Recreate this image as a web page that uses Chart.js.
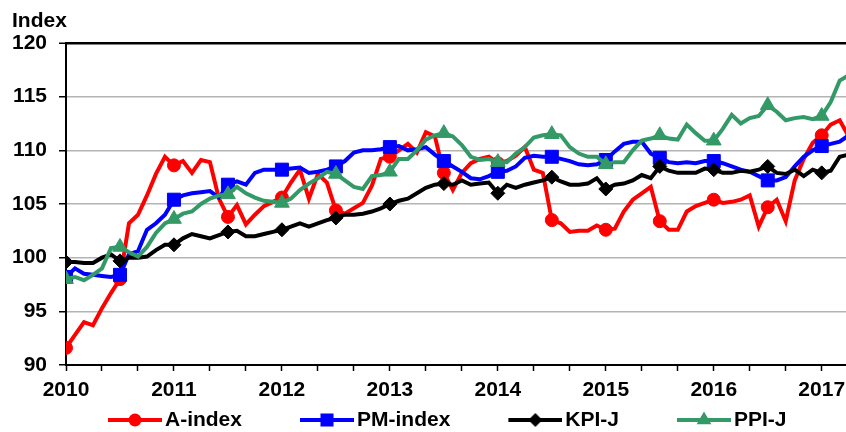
<!DOCTYPE html>
<html>
<head>
<meta charset="utf-8">
<title>Index</title>
<script src="https://cdn.jsdelivr.net/npm/chart.js@4.4.0/dist/chart.umd.min.js"></script>
<style>
    body { margin: 0; background: #fff; }
    canvas { display: block; }
</style>
</head>
<body>
<canvas id="indexChart" width="846" height="432"></canvas>
<script>
// Monthly values from Jan 2010, one point per month
const years = ['2010', '2011', '2012', '2013', '2014', '2015', '2016', '2017'];
const seriesNames = ['A-index', 'PM-index', 'KPI-J', 'PPI-J'];
const axisTitle = 'Index';

const aIndex = [
    91.6, 92.8, 94.0, 93.7, 95.3, 96.7, 98.0, 103.2, 104.0, 105.8,
    107.8, 109.4, 108.6, 109.0, 107.9, 109.1, 108.9, 105.5, 103.8, 104.9,
    103.1, 104.0, 104.8, 105.2, 105.6, 107.0, 108.2, 105.5, 107.8, 107.0,
    104.4, 104.1, 104.6, 105.1, 106.7, 109.2, 109.4, 110.0, 110.6, 109.8,
    111.7, 111.3, 107.9, 106.3, 107.9, 108.8, 109.2, 109.4, 108.8, 109.0,
    109.5, 110.3, 108.2, 107.9, 103.5, 103.2, 102.4, 102.5, 102.5, 103.0,
    102.6, 102.7, 104.3, 105.4, 106.0, 106.6, 103.4, 102.6, 102.6, 104.3,
    104.8, 105.1, 105.4, 105.1, 105.2, 105.4, 105.8, 102.9, 104.7, 105.4,
    103.4, 107.2, 109.2, 110.7, 111.4, 112.4, 112.8, 111.3
];
const pmIndex = [
    98.2, 99.0, 98.5, 98.4, 98.3, 98.2, 98.4, 100.3, 100.6, 102.6,
    103.2, 104.0, 105.4, 105.8, 106.0, 106.1, 106.2, 105.6, 106.8, 107.1,
    106.8, 107.9, 108.2, 108.2, 108.2, 108.3, 108.4, 107.9, 108.0, 108.2,
    108.5, 109.0, 109.8, 110.0, 110.0, 110.1, 110.3, 110.4, 110.0, 110.1,
    110.3, 109.6, 109.0, 108.5, 108.0, 107.4, 107.3, 107.6, 108.0, 108.1,
    108.5, 109.3, 109.5, 109.4, 109.4, 109.2, 109.0, 108.7, 108.6, 108.7,
    109.1, 109.9, 110.6, 110.8, 110.8, 109.7, 109.3, 108.9, 108.8, 108.9,
    108.8, 109.0, 109.0, 108.8, 108.5, 108.2, 108.0, 107.6, 107.2, 107.2,
    107.5, 108.5, 109.4, 110.0, 110.4, 110.6, 110.8, 111.4
];
const kpiJ = [
    99.6, 99.6, 99.5, 99.5, 100.0, 100.3, 99.7, 100.0, 100.0, 100.1,
    100.7, 101.2, 101.2, 101.8, 102.2, 102.0, 101.8, 102.1, 102.4, 102.5,
    102.0, 102.0, 102.2, 102.4, 102.6, 102.9, 103.2, 102.9, 103.2, 103.5,
    103.7, 104.0, 104.0, 104.1, 104.3, 104.6, 105.0, 105.3, 105.5, 106.0,
    106.5, 106.8, 106.9, 106.8, 107.2, 106.8, 106.9, 107.0, 106.0, 106.8,
    106.5, 106.8, 107.0, 107.2, 107.5, 107.1, 106.8, 106.8, 106.9, 107.4,
    106.4, 106.8, 106.9, 107.2, 107.7, 107.4, 108.5, 108.1, 107.9, 107.9,
    107.9, 108.3, 108.2, 107.9, 107.9, 108.1, 108.0, 108.2, 108.5, 107.9,
    107.8, 108.2, 107.6, 108.2, 107.9, 108.1, 109.4, 109.6
];
const ppiJ = [
    98.0, 98.2, 97.9, 98.4, 99.0, 100.9, 101.0, 100.5, 100.1, 101.0,
    102.3, 103.2, 103.6, 104.1, 104.3, 105.0, 105.5, 105.8, 105.9, 106.6,
    106.0, 105.6, 105.3, 105.2, 105.1, 105.5, 106.3, 106.9, 107.4, 108.0,
    107.8, 107.2, 106.6, 106.4, 107.6, 107.7, 108.0, 109.2, 109.2, 110.0,
    111.0, 111.4, 111.6, 111.3, 110.5, 109.4, 109.1, 109.2, 108.9, 108.9,
    109.7, 110.3, 111.2, 111.4, 111.5, 111.4, 110.3, 109.7, 109.4, 109.4,
    108.7, 108.9, 108.9, 110.0, 110.9, 111.1, 111.4, 111.1, 111.0, 112.4,
    111.6, 110.9, 110.9, 112.0, 113.3, 112.5, 113.0, 113.2, 114.2, 113.6,
    112.8, 113.0, 113.1, 112.9, 113.2, 114.5, 116.5, 117.0
];

const FONT = { family: '"Liberation Sans", Arial, sans-serif', size: 21, weight: 'bold' };

// Draw one marker shape, sized the way Chart.js sizes its point styles
function drawMarker(g, style, x, y, r) {
    g.beginPath();
    if (style === 'circle') {
        g.arc(x, y, r, 0, Math.PI * 2);
    } else if (style === 'rect') {
        const s = r * Math.SQRT1_2;
        g.rect(x - s, y - s, 2 * s, 2 * s);
    } else if (style === 'rectRot') {
        g.moveTo(x - r, y);
        g.lineTo(x, y - r);
        g.lineTo(x + r, y);
        g.lineTo(x, y + r);
        g.closePath();
    } else {
        const a = Math.PI * 2 / 3;
        g.moveTo(x, y - r);
        g.lineTo(x + Math.sin(a) * r, y - Math.cos(a) * r);
        g.lineTo(x + Math.sin(2 * a) * r, y - Math.cos(2 * a) * r);
        g.closePath();
    }
    g.fill();
}

// Legend sample: short line with the marker in the middle
// (left part of the image stays transparent so the sample sits next to its text)
function makeLegendImage(color, style, r) {
    const c = document.createElement('canvas');
    c.width = 110;
    c.height = 20;
    const g = c.getContext('2d');
    g.strokeStyle = color;
    g.fillStyle = color;
    g.lineWidth = 4;
    g.beginPath();
    g.moveTo(56, 10);
    g.lineTo(110, 10);
    g.stroke();
    drawMarker(g, style, 83, 10, r);
    return c;
}

function makeDataset(label, values, color, style, radius, order) {
    return {
        label: label,
        data: values.map((v, i) => ({ x: i, y: v })),
        borderColor: color,
        backgroundColor: color,
        borderWidth: 4,
        pointStyle: style,
        pointRadius: ctx => (ctx.dataIndex % 6 === 0 ? radius : 0),
        pointHoverRadius: 0,
        pointBorderWidth: 1,
        tension: 0,
        order: order
    };
}

const styles = [
    { color: '#ff0000', style: 'circle', r: 6.5 },
    { color: '#0000ff', style: 'rect', r: 9.2 },
    { color: '#000000', style: 'rectRot', r: 7 },
    { color: '#339966', style: 'triangle', r: 8.5 }
];
const allValues = [aIndex, pmIndex, kpiJ, ppiJ];
const legendImages = styles.map(s => makeLegendImage(s.color, s.style, s.r));

const datasets = allValues.map((vals, i) =>
    makeDataset(seriesNames[i], vals, styles[i].color, styles[i].style, styles[i].r, 4 - i));

const isTop = ctx => ctx.tick && ctx.tick.value === 120;

// Unit label above the value axis
const axisTitlePlugin = {
    id: 'axisTitle',
    afterDraw(chart) {
        const ctx = chart.ctx;
        ctx.save();
        ctx.font = 'bold 21px "Liberation Sans", Arial, sans-serif';
        ctx.fillStyle = '#000';
        ctx.textAlign = 'left';
        ctx.textBaseline = 'middle';
        ctx.fillText(axisTitle, 12, 21);
        ctx.restore();
    }
};

new Chart(document.getElementById('indexChart'), {
    type: 'line',
    data: { datasets: datasets },
    plugins: [axisTitlePlugin],
    options: {
        responsive: false,
        animation: false,
        events: [],
        layout: {
            autoPadding: false,
            padding: { left: 0, right: 0, top: 43, bottom: -8.5 }
        },
        plugins: {
            tooltip: { enabled: false },
            legend: {
                position: 'bottom',
                labels: {
                    usePointStyle: true,
                    pointStyleWidth: 95,
                    padding: 9.5,
                    color: '#000',
                    font: FONT,
                    generateLabels: chart => chart.data.datasets.map((ds, i) => ({
                        text: ds.label,
                        pointStyle: legendImages[i],
                        datasetIndex: i,
                        fontColor: '#000',
                        fillStyle: 'transparent',
                        strokeStyle: 'transparent',
                        lineWidth: 0,
                        hidden: false
                    }))
                }
            }
        },
        scales: {
            x: {
                type: 'linear',
                min: 0,
                max: 86.7,
                afterFit: scale => { scale.height = 35; },
                ticks: {
                    stepSize: 4,
                    includeBounds: false,
                    autoSkip: false,
                    maxRotation: 0,
                    padding: 0,
                    color: '#000',
                    font: Object.assign({}, FONT, { lineHeight: '39px' }),
                    callback: v => (v % 12 === 0 ? years[v / 12] : '')
                },
                grid: {
                    drawOnChartArea: false,
                    drawTicks: true,
                    tickLength: 6,
                    tickColor: '#000',
                    tickWidth: 1.5
                },
                border: { color: '#000', width: 2 }
            },
            y: {
                min: 90,
                max: 120,
                afterFit: scale => { scale.width = 66; },
                ticks: {
                    stepSize: 5,
                    padding: 12,
                    color: '#000',
                    font: FONT
                },
                grid: {
                    color: ctx => (isTop(ctx) ? '#000' : '#b4b4b4'),
                    lineWidth: ctx => (isTop(ctx) ? 2.5 : 1.5),
                    tickLength: 7,
                    tickColor: '#000',
                    tickWidth: 1.5
                },
                border: { color: '#000', width: 2 }
            }
        }
    }
});
</script>
</body>
</html>
